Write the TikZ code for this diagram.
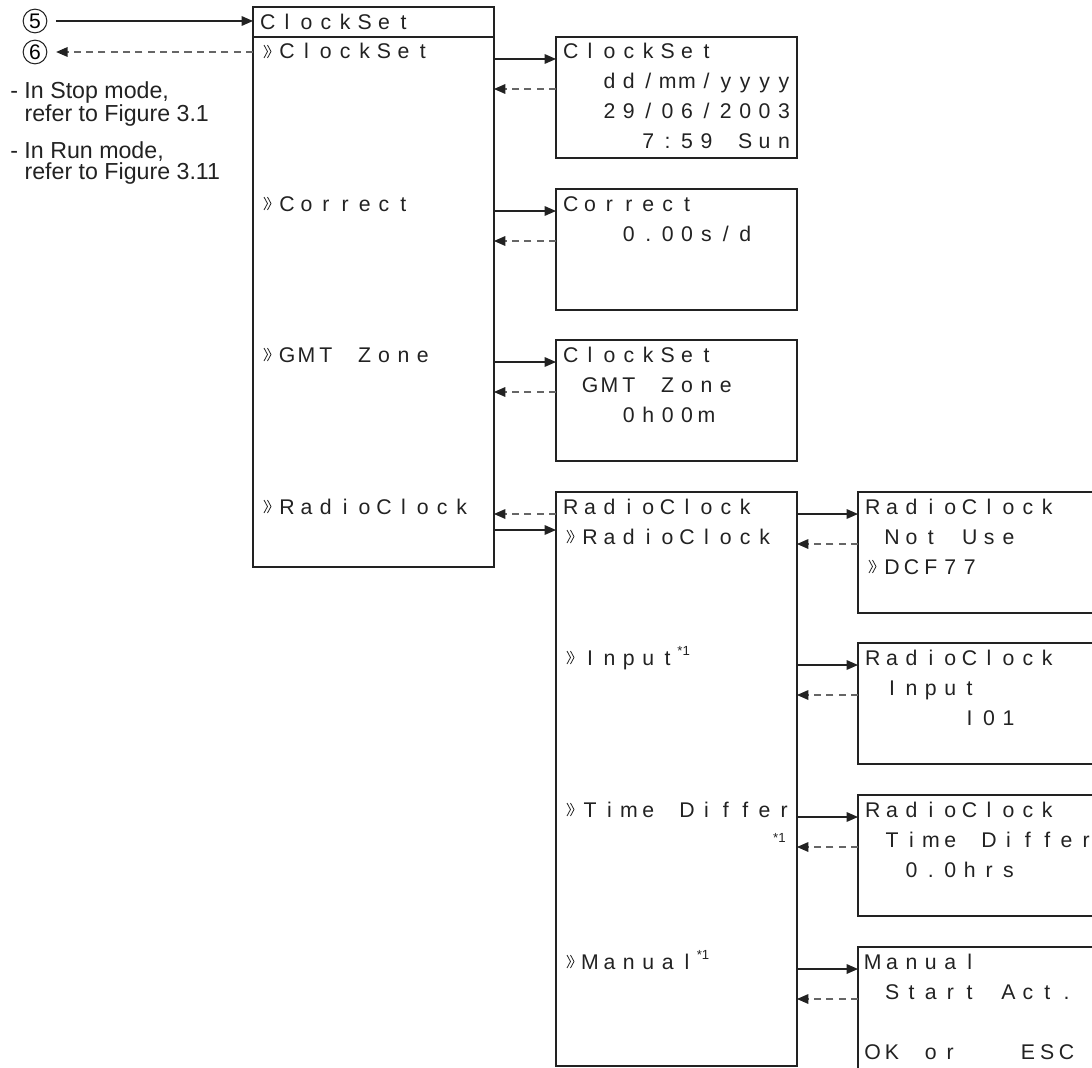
\documentclass[tikz,border=0pt]{standalone}
\usepackage{fontspec}
\setmainfont{Liberation Sans}
\newfontfamily\lcdfont{Liberation Sans}
\usepackage{xcolor}
\definecolor{cLine}{HTML}{222222}
\definecolor{cDash}{HTML}{666666}
\usetikzlibrary{arrows.meta,calc}
% one character per LCD cell, optional count of blank cells in front
\newlength\lcdcell
\setlength\lcdcell{0.388cm}
\ExplSyntaxOn
\NewDocumentCommand\lcd{O{0}m}{\hspace*{#1\lcdcell}\str_map_inline:nn{#2}{\makebox[\lcdcell][c]{##1}}}
\ExplSyntaxOff
\newcommand\fnmark{\raisebox{5.5pt}{\fontsize{7.5}{7.5}\selectfont *1}}
\tikzset{
  screen/.style={draw=cLine,line width=0.8pt,inner sep=0pt,outer sep=0pt,
    anchor=north west,minimum width=4.82cm,minimum height=2.42cm},
  lcdtxt/.style={font=\lcdfont\fontsize{12.1}{14}\selectfont,text=cLine,
    inner sep=0pt,outer sep=0pt,anchor=base west},
  note/.style={font=\fontsize{13.2}{12.3}\selectfont,text=cLine,
    inner sep=0pt,anchor=north west,align=left},
  num/.style={draw=cLine,circle,line width=0.6pt,minimum size=13.5pt,
    inner sep=0pt,font=\fontsize{12}{12}\selectfont},
  arr/.style={-{Triangle[length=6.5pt,width=5.5pt]},line width=0.7pt,draw=cLine},
  arr-back/.style={-{Triangle[length=6.5pt,width=5.5pt,color=cLine]},
    line width=0.7pt,draw=cDash,dash pattern=on 4pt off 3pt},
  % cursor mark in front of a menu line
  selmark/.pic={\draw[line width=0.45pt,cLine] (0,-14) -- (3.5,-7.5) -- (0,-1)
      (3.5,-14) -- (7,-7.5) -- (3.5,-1);},
}

\begin{document}
\begin{tikzpicture}[x=0.02cm,y=-0.02cm]
  \useasboundingbox (0,0) rectangle (1092,1068);
  \clip (0,0) rectangle (1092,1068);
  % entry / exit
  \node[num] (n5) at (35,21) {5};
  \node[num] (n6) at (35,52) {6};
  \node[note] (stop) at (10,81) {- In Stop mode,\\\hspace*{8.1pt}refer to Figure 3.1};
  \node[note] (run) at (10,141) {- In Run mode,\\\hspace*{8.1pt}refer to Figure 3.11};
  % boxes
  \node[screen,minimum height=11.2cm] (main) at (253,7) {};
  \node[screen,minimum height=0.6cm] (mainhead) at (253,7) {};
  \node[screen] (cs)  at (556,37)  {};
  \node[screen] (cor) at (556,189) {};
  \node[screen] (gmt) at (556,340) {};
  \node[screen,minimum height=11.48cm] (rc) at (556,492) {};
  \node[screen,minimum width=5cm] (nu)  at (858,492) {};
  \node[screen,minimum width=5cm] (inp) at (858,643) {};
  \node[screen,minimum width=5cm] (tdf) at (858,795) {};
  \node[screen,minimum width=5cm,minimum height=3cm] (man) at (858,947) {};
  % screen texts
  \node[lcdtxt] (mh1)  at ($(mainhead.north west)+(5,23)$) {\lcd{ClockSet}};
  \node[lcdtxt] (cs1)  at ($(cs.north west)+(5,22)$)  {\lcd{ClockSet}};
  \node[lcdtxt] (cs2)  at ($(cs.north west)+(5,52)$)  {\lcd[2]{dd/mm/yyyy}};
  \node[lcdtxt] (cs3)  at ($(cs.north west)+(5,82)$)  {\lcd[2]{29/06/2003}};
  \node[lcdtxt] (cs4)  at ($(cs.north west)+(5,112)$) {\lcd[4]{7:59 Sun}};
  \node[lcdtxt] (cor1) at ($(cor.north west)+(5,22)$) {\lcd{Correct}};
  \node[lcdtxt] (cor2) at ($(cor.north west)+(5,52)$) {\lcd[3]{0.00s/d}};
  \node[lcdtxt] (gmt1) at ($(gmt.north west)+(5,22)$) {\lcd{ClockSet}};
  \node[lcdtxt] (gmt2) at ($(gmt.north west)+(5,52)$) {\lcd[1]{GMT Zone}};
  \node[lcdtxt] (gmt3) at ($(gmt.north west)+(5,82)$) {\lcd[3]{0h00m}};
  \node[lcdtxt] (rc1)  at ($(rc.north west)+(5,22)$)  {\lcd{RadioClock}};
  \node[lcdtxt] (rc2)  at ($(rc.north west)+(5,52)$)  {\lcd[1]{RadioClock}};
  \node[lcdtxt] (nu1)  at ($(nu.north west)+(5,22)$)  {\lcd{RadioClock}};
  \node[lcdtxt] (nu2)  at ($(nu.north west)+(5,52)$)  {\lcd[1]{Not Use}};
  \node[lcdtxt] (nu3)  at ($(nu.north west)+(5,82)$)  {\lcd[1]{DCF77}};
  \node[lcdtxt] (inp1) at ($(inp.north west)+(5,22)$) {\lcd{RadioClock}};
  \node[lcdtxt] (inp2) at ($(inp.north west)+(5,52)$) {\lcd[1]{Input}};
  \node[lcdtxt] (inp3) at ($(inp.north west)+(5,82)$) {\lcd[5]{I01}};
  \node[lcdtxt] (tdf1) at ($(tdf.north west)+(5,22)$) {\lcd{RadioClock}};
  \node[lcdtxt] (tdf2) at ($(tdf.north west)+(5,52)$) {\lcd[1]{Time Differ}};
  \node[lcdtxt] (tdf3) at ($(tdf.north west)+(5,82)$) {\lcd[2]{0.0hrs}};
  \node[lcdtxt] (man1) at ($(man.north west)+(5,22)$) {\lcd{Manual}};
  \node[lcdtxt] (man2) at ($(man.north west)+(5,52)$) {\lcd[1]{Start Act.}};
  \node[lcdtxt] (man4) at ($(man.north west)+(5,112)$) {\lcd{OK or}\lcd[3]{ESC}};
  % menu items
  \node[lcdtxt] (mi1) at ($(main.west |- cs1.base)+(5,0)$)  {\lcd[1]{ClockSet}};
  \node[lcdtxt] (mi2) at ($(main.west |- cor1.base)+(5,0)$) {\lcd[1]{Correct}};
  \node[lcdtxt] (mi3) at ($(main.west |- gmt1.base)+(5,0)$) {\lcd[1]{GMT Zone}};
  \node[lcdtxt] (mi4) at ($(main.west |- rc1.base)+(5,0)$)  {\lcd[1]{RadioClock}};
  \node[lcdtxt] (ri1) at ($(rc.west |- inp1.base)+(5,0)$) {\lcd[1]{Input}\fnmark};
  \node[lcdtxt] (ri2) at ($(rc.west |- tdf1.base)+(5,0)$) {\lcd[1]{Time Differ}};
  \node[anchor=base east,inner sep=0pt,text=cLine,font=\fontsize{7.5}{7.5}\selectfont]
    (ri2n) at ($(rc.east |- ri2.base)+(-11,25)$) {*1};
  \node[lcdtxt] (ri3) at ($(rc.west |- man1.base)+(5,0)$) {\lcd[1]{Manual}\fnmark};
  % cursor marks
  \pic at ($(mi1.base west)+(6,0)$) {selmark};
  \pic at ($(mi2.base west)+(6,0)$) {selmark};
  \pic at ($(mi3.base west)+(6,0)$) {selmark};
  \pic at ($(mi4.base west)+(6,0)$) {selmark};
  \pic at ($(rc2.base west)+(6,0)$) {selmark};
  \pic at ($(nu3.base west)+(6,0)$) {selmark};
  \pic at ($(ri1.base west)+(6,0)$) {selmark};
  \pic at ($(ri2.base west)+(6,0)$) {selmark};
  \pic at ($(ri3.base west)+(6,0)$) {selmark};
  % connectors
  \draw[arr,shorten <=4.8pt] (n5) -- (mainhead.west |- n5);
  \draw[arr-back,shorten >=5pt] (main.west |- n6) -- (n6);
  \draw[arr] (main.east |- cs1.base) -- (cs.west |- cs1.base);
  \draw[arr-back] (cs.west |- cs2.base) -- (main.east |- cs2.base);
  \draw[arr] (main.east |- cor1.base) -- (cor.west |- cor1.base);
  \draw[arr-back] (cor.west |- cor2.base) -- (main.east |- cor2.base);
  \draw[arr] (main.east |- gmt1.base) -- (gmt.west |- gmt1.base);
  \draw[arr-back] (gmt.west |- gmt2.base) -- (main.east |- gmt2.base);
  \draw[arr-back] (rc.west |- rc1.base) -- (main.east |- rc1.base);
  \draw[arr] ($(main.east |- rc1.base)+(0,16)$) -- ($(rc.west |- rc1.base)+(0,16)$);
  \draw[arr] (rc.east |- nu1.base) -- (nu.west |- nu1.base);
  \draw[arr-back] (nu.west |- nu2.base) -- (rc.east |- nu2.base);
  \draw[arr] (rc.east |- inp1.base) -- (inp.west |- inp1.base);
  \draw[arr-back] (inp.west |- inp2.base) -- (rc.east |- inp2.base);
  \draw[arr] (rc.east |- tdf1.base) -- (tdf.west |- tdf1.base);
  \draw[arr-back] (tdf.west |- tdf2.base) -- (rc.east |- tdf2.base);
  \draw[arr] (rc.east |- man1.base) -- (man.west |- man1.base);
  \draw[arr-back] (man.west |- man2.base) -- (rc.east |- man2.base);
\end{tikzpicture}
\end{document}
